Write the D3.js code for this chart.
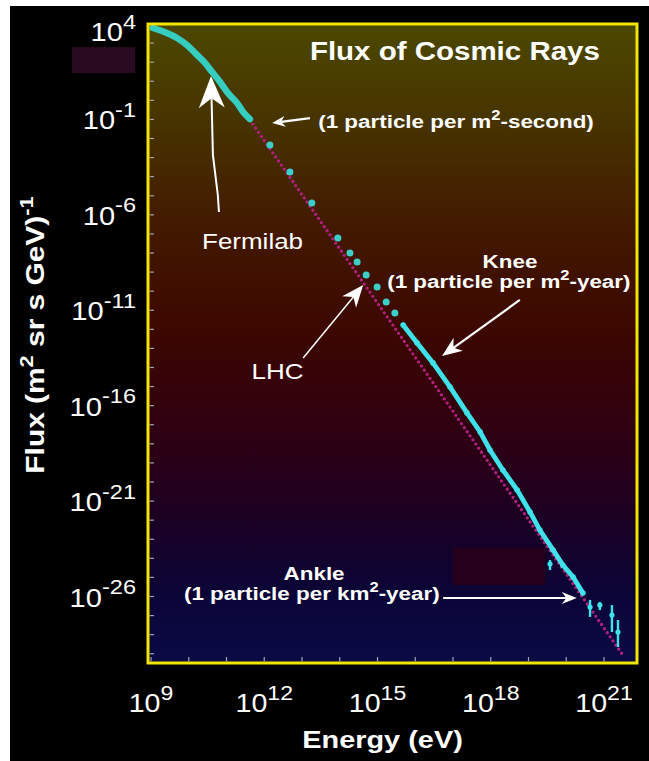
<!DOCTYPE html>
<html>
<head>
<meta charset="utf-8">
<script src="https://cdn.jsdelivr.net/npm/d3@7"></script>
<style>
  html, body { margin: 0; padding: 0; background: #fff; }
  svg { display: block; }
</style>
</head>
<body>
<svg id="chart" width="649" height="761"></svg>
<script>
// ---- Data: log10(energy / eV) and log10(flux / (m^2 sr s GeV)^-1) ----
// Low-energy spectrum (direct measurements, dense band)
const lowLogE = [9.05, 9.42, 9.69, 9.95, 10.22, 10.43, 10.62, 10.83, 11.04, 11.28, 11.44, 11.62];
const lowLogF = [3.79, 3.53, 3.27, 2.90, 2.38, 1.96, 1.48, 0.96, 0.38, -0.14, -0.61, -0.98];
// Sparse measurements between 1e12 and the knee
const midLogE = [12.15, 12.68, 13.26, 13.95, 14.27, 14.46, 14.70, 14.99, 15.23, 15.46];
const midLogF = [-2.34, -3.76, -5.38, -7.21, -8.00, -8.47, -9.15, -9.78, -10.57, -11.14];
// Air-shower measurements above the knee
const highLogE = [15.68, 16.05, 16.47, 16.92, 17.37, 17.72, 17.98, 18.32, 18.70, 19.04, 19.30, 19.65, 19.91, 20.18, 20.44];
const highLogF = [-11.77, -12.72, -13.76, -15.02, -16.38, -17.38, -18.32, -19.37, -20.42, -21.57, -22.52, -23.56, -24.35, -24.98, -25.82];
// Highest-energy points with error bars
const tailLogE = [19.57, 20.63, 20.89, 21.21, 21.37];
const tailLogF = [-24.30, -26.55, -26.45, -26.97, -27.86];
const tailLogLo = [-24.61, -27.07, -26.71, -27.86, -28.65];
const tailLogHi = [-24.09, -26.18, -26.29, -26.45, -27.23];
// Reference power law
const powerLogE = [11.62, 21.50];
const powerLogF = [-1.03, -29.07];

// Axis tick labels (exponents of ten)
const xTickExp = [9, 12, 15, 18, 21];
const yTickExp = [4, -1, -6, -11, -16, -21, -26];
const xMinorExp = d3.range(9, 22);
const yMinorExp = d3.range(4, -30, -1);

// ---- Layout ----
const W = 649, H = 761;
const frame = { left: 148, top: 24, right: 637, bottom: 663 };
const FONT = "'Liberation Sans', Arial, Helvetica, sans-serif";
const SX = 1.18;

const x = d3.scaleLog().domain([1e9, 1e21]).range([151, 604]);
const y = d3.scaleLog().domain([1e4, 1e-26]).range([24, 596.5]);
const px = e => x(Math.pow(10, e));
const py = f => y(Math.pow(10, f));

const svg = d3.select("#chart");

// page backdrop
svg.append("rect").attr("width", W).attr("height", H).attr("fill", "#fff");
svg.append("rect").attr("x", 10).attr("y", 6).attr("width", W - 10).attr("height", H - 6).attr("fill", "#000");

// plot background gradient
const defs = svg.append("defs");
const grad = defs.append("linearGradient").attr("id", "sky")
  .attr("x1", 0).attr("y1", 0).attr("x2", 0).attr("y2", 1);
[[0, "#4c4800"], [0.15, "#473400"], [0.31, "#431a00"], [0.48, "#3c0700"],
 [0.64, "#2f0012"], [0.78, "#1a0024"], [0.89, "#0b0537"], [1, "#0a0a45"]]
  .forEach(([o, c]) => grad.append("stop").attr("offset", o).attr("stop-color", c));

svg.append("rect")
  .attr("x", frame.left).attr("y", frame.top)
  .attr("width", frame.right - frame.left).attr("height", frame.bottom - frame.top)
  .attr("fill", "url(#sky)");

// dark patches
const patches = [
  { e0: 6.91, e1: 8.58, f0: 2.79, f1: 1.43, fill: "#2a0a20" },
  { e0: 17.0, e1: 19.44, f0: -23.46, f1: -25.40, fill: "#26001a" }
];
svg.selectAll(".patch").data(patches).join("rect")
  .attr("x", d => px(d.e0)).attr("y", d => py(d.f0))
  .attr("width", d => px(d.e1) - px(d.e0)).attr("height", d => py(d.f1) - py(d.f0))
  .attr("fill", d => d.fill);

const plot = svg.append("g");

// reference power law (dotted magenta)
const powerPts = powerLogE.map((e, i) => [px(e), py(powerLogF[i])]);
plot.append("path")
  .attr("d", d3.line()(powerPts))
  .attr("fill", "none").attr("stroke", "#b0207e")
  .attr("stroke-width", 3.3).attr("stroke-linecap", "round")
  .attr("stroke-dasharray", "0 5");

// low-energy band
const lowPts = lowLogE.map((e, i) => [px(e), py(lowLogF[i])]);
plot.append("path")
  .attr("d", d3.line().curve(d3.curveCatmullRom)(lowPts))
  .attr("fill", "none").attr("stroke", "#34cdbf")
  .attr("stroke-width", 6.5).attr("stroke-linecap", "round");

// sparse points
plot.selectAll(".mid").data(midLogE).join("circle")
  .attr("cx", d => px(d)).attr("cy", (d, i) => py(midLogF[i]))
  .attr("r", 3.5).attr("fill", "#3ccfca");

// above the knee
const highPts = highLogE.map((e, i) => [px(e), py(highLogF[i])]);
plot.append("path")
  .attr("d", d3.line()(highPts))
  .attr("fill", "none").attr("stroke", "#3fe2ea")
  .attr("stroke-width", 4.8).attr("stroke-linecap", "round");
plot.selectAll(".high").data(highPts).join("circle")
  .attr("cx", d => d[0]).attr("cy", d => d[1])
  .attr("r", 2.8).attr("fill", "#3fe2ea");

// highest energies with error bars
plot.selectAll(".err").data(tailLogE).join("line")
  .attr("x1", d => px(d)).attr("x2", d => px(d))
  .attr("y1", (d, i) => py(tailLogHi[i])).attr("y2", (d, i) => py(tailLogLo[i]))
  .attr("stroke", "#3fe2ea").attr("stroke-width", 2.4);
plot.selectAll(".tail").data(tailLogE).join("circle")
  .attr("cx", d => px(d)).attr("cy", (d, i) => py(tailLogF[i]))
  .attr("r", 2.6).attr("fill", "#3fe2ea");

// frame
svg.append("rect")
  .attr("x", frame.left).attr("y", frame.top)
  .attr("width", frame.right - frame.left).attr("height", frame.bottom - frame.top)
  .attr("fill", "none").attr("stroke", "#f2e600").attr("stroke-width", 3);

// minor ticks, inward
svg.selectAll(".ytick").data(yMinorExp.filter(k => py(k) > frame.top + 2 && py(k) < frame.bottom - 2)).join("line")
  .attr("x1", frame.left + 1.5).attr("x2", frame.left + 6)
  .attr("y1", d => py(d)).attr("y2", d => py(d))
  .attr("stroke", "#a8a0b0").attr("stroke-width", 1.2);
svg.selectAll(".xtick").data(xMinorExp.filter(k => px(k) > frame.left + 2 && px(k) < frame.right - 2)).join("line")
  .attr("x1", d => px(d)).attr("x2", d => px(d))
  .attr("y1", frame.bottom - 1.5).attr("y2", frame.bottom - 6)
  .attr("stroke", "#a8a0b0").attr("stroke-width", 1.2);

// text with superscripts, stretched along its baseline
function richText(x0, y0, parts, o) {
  const g = svg.append("g")
    .attr("transform", `translate(${x0},${y0}) rotate(${o.rotate || 0}) scale(${o.sx || SX},1)`);
  const t = g.append("text")
    .attr("font-family", FONT).attr("font-size", o.size)
    .attr("font-weight", o.weight || "normal").attr("fill", o.fill || "#fff")
    .attr("text-anchor", o.anchor || "middle");
  const lift = o.size * (o.lift || 0.42);
  let raised = false;
  parts.forEach(p => {
    const sup = typeof p !== "string";
    const ts = t.append("tspan").text(sup ? p.sup : p);
    if (sup) {
      ts.attr("font-size", o.supSize || o.size * 0.7).attr("dy", -lift);
      raised = true;
    } else if (raised) {
      ts.attr("dy", lift);
      raised = false;
    }
  });
  return g;
}

// y tick labels
yTickExp.forEach(k => {
  const base = Math.max(py(k) + 10, 41);
  richText(frame.left - 12, base, ["10", { sup: String(k) }],
    { size: 26, supSize: 21, anchor: "end", sx: 1.12, lift: 0.48 });
});
// x tick labels
xTickExp.forEach(k => {
  richText(px(k), 712, ["10", { sup: String(k) }],
    { size: 26, supSize: 21, anchor: "middle", sx: 1.1, lift: 0.48 });
});

// axis titles
richText((frame.left + frame.right) / 2 - 10, 748, ["Energy (eV)"], { size: 24.5, weight: "bold" });
richText(44, 335, ["Flux (m", { sup: "2" }, " sr s GeV)", { sup: "-1" }],
  { size: 26, weight: "bold", rotate: -90, sx: 1.15, supSize: 19 });

// chart title and annotations, placed in data coordinates
const notes = [
  { e: 17.05, f: 2.11, parts: ["Flux of Cosmic Rays"], size: 25, weight: "bold" },
  { e: 17.08, f: -1.45, parts: ["(1 particle per m", { sup: "2" }, "-second)"], size: 19, weight: "bold" },
  { e: 11.69, f: -7.79, parts: ["Fermilab"], size: 22, weight: "normal" },
  { e: 12.35, f: -14.60, parts: ["LHC"], size: 22, weight: "normal" },
  { e: 18.51, f: -8.79, parts: ["Knee"], size: 19, weight: "bold" },
  { e: 18.48, f: -9.83, parts: ["(1 particle per m", { sup: "2" }, "-year)"], size: 19, weight: "bold" },
  { e: 13.32, f: -25.14, parts: ["Ankle"], size: 19, weight: "bold" },
  { e: 13.26, f: -26.18, parts: ["(1 particle per km", { sup: "2" }, "-year)"], size: 19, weight: "bold" }
];
notes.forEach(n => richText(px(n.e), py(n.f), n.parts, { size: n.size, weight: n.weight, supSize: 14 }));

// annotation arrows: polyline in data coordinates ending at the tip
const arrows = [
  { pts: [[10.80, -5.85], [10.77, -4.96], [10.64, -2.86], [10.59, 1.28]], len: 32, wid: 26, sw: 2 },
  { pts: [[13.21, -0.93], [12.21, -1.19]], len: 13, wid: 11, sw: 2.2 },
  { pts: [[18.77, -10.46], [16.71, -13.40]], len: 20, wid: 16, sw: 2.2 },
  { pts: [[13.03, -13.50], [14.62, -9.68]], len: 22, wid: 18, sw: 1.5 },
  { pts: [[16.74, -26.08], [20.28, -26.08]], len: 15, wid: 12, sw: 2 }
];
arrows.forEach(a => {
  const p = a.pts.map(d => [px(d[0]), py(d[1])]);
  const [x1, y1] = p[p.length - 2], [x2, y2] = p[p.length - 1];
  const ang = Math.atan2(y2 - y1, x2 - x1) * 180 / Math.PI;
  const d = Math.hypot(x2 - x1, y2 - y1);
  const shaft = p.slice(0, -1).concat([[x2 - (x2 - x1) / d * a.len * 0.7, y2 - (y2 - y1) / d * a.len * 0.7]]);
  svg.append("path").attr("d", d3.line()(shaft))
    .attr("fill", "none").attr("stroke", "#fff").attr("stroke-width", a.sw);
  svg.append("path")
    .attr("d", `M0,0L${-a.len},${-a.wid / 2}L${-a.len * 0.7},0L${-a.len},${a.wid / 2}Z`)
    .attr("transform", `translate(${x2},${y2}) rotate(${ang})`)
    .attr("fill", "#fff");
});
</script>
</body>
</html>
